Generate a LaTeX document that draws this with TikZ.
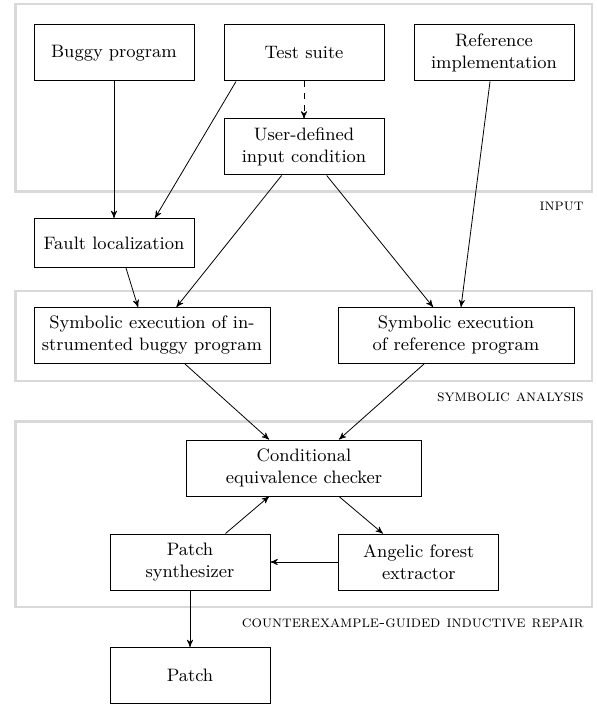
\documentclass[tikz,border=0pt]{standalone}
\usepackage{tikz}
\usetikzlibrary{arrows}
\usetikzlibrary{positioning}
\tikzset{
    block/.style={
           rectangle,
           draw=black, line width=0.5pt,
           inner sep=0pt,
           minimum width=80pt,
           minimum height=28pt,
           align=center,
           font=\fontsize{9}{11}\selectfont,
           },
}
\tikzset{
    frame/.style={
           draw=black!15, line width=1.2pt,
           },
}
\tikzset{
    tag/.style={
           anchor=east,
           inner sep=0pt,
           font=\fontsize{8.2}{10}\selectfont\scshape,
           },
}

\begin{document}
\begin{tikzpicture}[->,>={stealth'[scale=1.3]},line width=0.4pt]

 \useasboundingbox (0,0) rectangle (298pt,-352pt);

 % grey frames
 \draw[frame,-] (7.75pt,-2pt) rectangle (296pt,-95.75pt);
 \draw[frame,-] (7.75pt,-145.5pt) rectangle (296pt,-190.5pt);
 \draw[frame,-] (7.75pt,-210.75pt) rectangle (296pt,-303.5pt);

 \node[tag] (lin) at (292pt,-103pt) {input};
 \node[tag] (lsa) at (292pt,-198.5pt) {symbolic analysis};
 \node[tag] (lcg) at (292pt,-311.5pt) {counterexample-guided inductive repair};

 \node[block] (BP) at (57pt,-26.5pt)
 {Buggy program};

 \node[block,
  right of=BP,
  node distance=95pt] (TS)
 {Test suite};

 \node[block,
  right of=TS,
  node distance=95pt] (RI)
 {Reference\\implementation};

 \node[block,
  below of=TS,
  node distance=47pt] (UC)
 {User-defined\\input condition};

 \node[block,
  below of=BP,
  node distance=95pt,
  minimum height=24.5pt] (FL)
 {Fault localization};

 \node[block,
  below of=FL,
  node distance=46.25pt,
  xshift=19pt,
  minimum width=118pt] (SB)
 {Symbolic execution of in-\\strumented buggy program};

 \node[block,
  right of=SB,
  node distance=152pt,
  minimum width=118pt] (SR)
 {Symbolic execution\\of reference program};

 \node[block,
  below of=UC,
  node distance=160.5pt,
  minimum width=117.5pt] (CE)
 {Conditional\\equivalence checker};

 \node[block,
  below of=CE,
  node distance=47pt,
  xshift=-57pt] (PS)
 {Patch\\synthesizer};

 \node[block,
  right of=PS,
  node distance=114.4pt] (AF)
 {Angelic forest\\extractor};

 \node[block,
  below of=PS,
  node distance=56.75pt] (PA)
 {Patch};

 \draw (BP.south) -- (FL.north);
 \draw ([xshift=-34pt]TS.south) -- ([xshift=20.5pt]FL.north);
 \draw[dashed] (TS.south) -- (UC.north);
 \draw ([xshift=-2pt]RI.south) -- ([xshift=2.5pt]SR.north);
 \draw ([xshift=-11.2pt]UC.south) -- ([xshift=12.25pt]SB.north);
 \draw ([xshift=11.35pt]UC.south) -- ([xshift=-11.5pt]SR.north);
 \draw ([xshift=6pt]FL.south) -- ([xshift=-7pt]SB.north);
 \draw ([xshift=16.5pt]SB.south) -- ([xshift=-17.5pt]CE.north);
 \draw ([xshift=-16pt]SR.south) -- ([xshift=17.5pt]CE.north);
 \draw ([xshift=17.5pt]CE.south) -- ([xshift=-18pt]AF.north);
 \draw ([xshift=17.75pt]PS.north) -- ([xshift=-17.5pt]CE.south);
 \draw (AF.west) -- (PS.east);
 \draw (PS.south) -- (PA.north);

\end{tikzpicture}
\end{document}
